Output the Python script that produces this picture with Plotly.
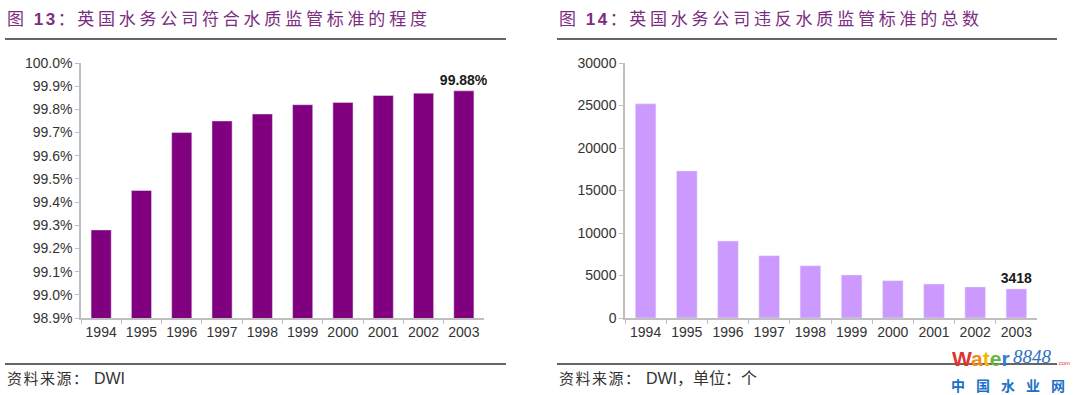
import plotly.graph_objects as go

W, H = 1080, 395

years = ["1994", "1995", "1996", "1997", "1998", "1999", "2000", "2001", "2002", "2003"]
compliance_pct = [99.28, 99.45, 99.70, 99.75, 99.78, 99.82, 99.83, 99.86, 99.87, 99.88]
violations = [25200, 17300, 9050, 7330, 6150, 5060, 4390, 4000, 3650, 3418]

left_prefix = "图 <b>13</b>："
left_title = "英国水务公司符合水质监管标准的程度"
right_prefix = "图 <b>14</b>："
right_title = "英国水务公司违反水质监管标准的总数"
source_cn = "资料来源："
left_source_rest = "DWI"
right_source_rest = "DWI，单位：个"

LEFT_COLOR = "#800080"
RIGHT_COLOR = "#CC99FF"
TITLE_COLOR = "#7B2D7F"
AXIS_COLOR = "#BFBFBF"
TICK_FONT = dict(family="Liberation Sans, Arial", size=14, color="#333333")
CJK = "Noto Sans CJK SC"


def px(x):
    return x / W


def py(y):
    return 1 - y / H


left_labels = ["" for _ in compliance_pct]
left_labels[-1] = f"{compliance_pct[-1]:.2f}%"
right_labels = ["" for _ in violations]
right_labels[-1] = f"{violations[-1]}"

LABEL_FONT = dict(family="Liberation Sans, Arial", size=14, color="#1a1a1a")

fig = go.Figure()
fig.add_trace(go.Bar(
    x=years, y=compliance_pct, marker_color=LEFT_COLOR, xaxis="x", yaxis="y",
    text=left_labels, textposition="outside", cliponaxis=False, constraintext="none",
    textfont=LABEL_FONT, texttemplate="<b>%{text}</b>", showlegend=False, hoverinfo="skip",
))
fig.add_trace(go.Bar(
    x=years, y=violations, marker_color=RIGHT_COLOR, xaxis="x2", yaxis="y2",
    text=right_labels, textposition="outside", cliponaxis=False, constraintext="none",
    textfont=LABEL_FONT, texttemplate="<b>%{text}</b>", showlegend=False, hoverinfo="skip",
))

xcommon = dict(type="category", showline=True, linecolor=AXIS_COLOR, linewidth=1.5,
               ticks="outside", tickson="boundaries", ticklen=4, tickcolor=AXIS_COLOR,
               tickfont=TICK_FONT, tickangle=0, showgrid=False, zeroline=False,
               fixedrange=True, automargin=False)
ycommon = dict(showline=True, linecolor=AXIS_COLOR, linewidth=1.5, ticks="outside",
               ticklen=4, tickcolor=AXIS_COLOR, tickfont=TICK_FONT, showgrid=False,
               zeroline=False, fixedrange=True, automargin=False)

ydom = [py(318), py(63)]
fig.update_layout(
    width=W, height=H, margin=dict(l=0, r=0, t=0, b=0, pad=0, autoexpand=False),
    paper_bgcolor="white", plot_bgcolor="white", bargap=0.5,
    xaxis=dict(domain=[px(81), px(484)], anchor="y", **xcommon),
    yaxis=dict(domain=ydom, anchor="x", range=[98.9, 100.0], dtick=0.1,
               tick0=98.9, tickformat=".1f", ticksuffix="%", **ycommon),
    xaxis2=dict(domain=[px(625), px(1037)], anchor="y2", **xcommon),
    yaxis2=dict(domain=ydom, anchor="x2", range=[0, 30000], dtick=5000,
                tickformat="d", **ycommon),
)

TITLE_FONT = dict(family=f"Liberation Sans, {CJK}", size=17, color=TITLE_COLOR)


def title_html(prefix, body):
    return (f'<span style="letter-spacing:2.5px">{prefix}</span>'
            f'<span style="letter-spacing:3.8px">{body}</span>')


def source_html(rest):
    return (f'<span style="letter-spacing:1.5px">{source_cn}</span>'
            f'<span style="font-size:16px"> {rest}</span>')


ann = []
ann.append(dict(text=title_html(left_prefix, left_title),
                x=px(5), y=py(19), xref="paper", yref="paper", xanchor="left",
                yanchor="middle", showarrow=False, font=TITLE_FONT))
ann.append(dict(text=title_html(right_prefix, right_title),
                x=px(557), y=py(19), xref="paper", yref="paper", xanchor="left",
                yanchor="middle", showarrow=False, font=TITLE_FONT))
SRC_FONT = dict(family=f"Liberation Sans, {CJK}", size=15, color="#333333")
ann.append(dict(text=source_html(left_source_rest), x=px(5), y=py(378), xref="paper",
                yref="paper", xanchor="left", yanchor="middle", showarrow=False,
                font=SRC_FONT))
ann.append(dict(text=source_html(right_source_rest), x=px(557), y=py(378), xref="paper",
                yref="paper", xanchor="left", yanchor="middle", showarrow=False,
                font=SRC_FONT))
# watermark logo
logo = ('<span style="color:#E0342F">W</span><span style="color:#F08A1C">a</span>'
        '<span style="color:#F2B705">t</span><span style="color:#6DB33F">e</span>'
        '<span style="color:#2F7FD0">r</span>')
ann.append(dict(text=f"<b>{logo}</b>", x=px(950), y=py(358), xref="paper", yref="paper",
                xanchor="left", yanchor="middle", showarrow=False,
                font=dict(family="Liberation Sans", size=21)))
ann.append(dict(text="<i>8848</i>", x=px(1011), y=py(356), xref="paper", yref="paper",
                xanchor="left", yanchor="middle", showarrow=False,
                font=dict(family="Liberation Serif", size=19, color="#2F6FC0")))
ann.append(dict(text=".com", x=px(1055), y=py(363), xref="paper", yref="paper",
                xanchor="left", yanchor="middle", showarrow=False,
                font=dict(family="Liberation Sans", size=6, color="#E0342F")))
ann.append(dict(text='<b><span style="letter-spacing:11px">中国水业网</span></b>',
                x=px(949), y=py(385), xref="paper", yref="paper", xanchor="left",
                yanchor="middle", showarrow=False,
                font=dict(family=CJK, size=14, color="#1E6FC8")))
fig.update_layout(annotations=ann)

shapes = []
for x0, x1 in [(5, 506), (557, 1057)]:
    for yy in (39, 364):
        shapes.append(dict(type="line", xref="paper", yref="paper", x0=px(x0), x1=px(x1),
                           y0=py(yy), y1=py(yy), line=dict(color="#333333", width=1.5)))
fig.update_layout(shapes=shapes)

css_fix = (
    "var s=document.createElement('style');"
    "s.innerHTML='html,body{margin:0 !important;padding:0 !important;"
    "overflow:hidden;height:395px;}';"
    "document.head.appendChild(s);"
)
fig.write_html("out.html", config={"displayModeBar": False}, post_script=css_fix)
